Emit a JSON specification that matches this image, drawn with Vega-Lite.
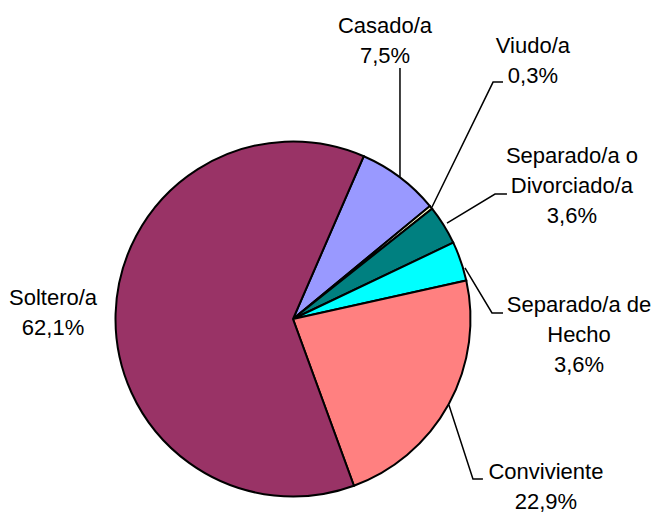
{
  "$schema": "https://vega.github.io/schema/vega-lite/v6.json",
  "autosize": "none",
  "width": 356,
  "height": 356,
  "padding": {"left": 115, "top": 141, "right": 183, "bottom": 16},
  "background": "white",
  "config": {"view": {"stroke": null}},
  "datasets": {
    "slices": [
      {"estado": "Casado/a", "pct": 7.5, "ord": 1},
      {"estado": "Viudo/a", "pct": 0.3, "ord": 2},
      {"estado": "Separado/a o Divorciado/a", "pct": 3.6, "ord": 3},
      {"estado": "Separado/a de Hecho", "pct": 3.6, "ord": 4},
      {"estado": "Conviviente", "pct": 22.9, "ord": 5},
      {"estado": "Soltero/a", "pct": 62.1, "ord": 6}
    ],
    "labels": [
      {"label": "Casado/a\n7,5%", "x": 51.7, "y": 160.7},
      {"label": "Viudo/a\n0,3%", "x": 134.8, "y": 149.4},
      {"label": "Separado/a o\nDivorciado/a\n3,6%", "x": 156.7, "y": 87.6},
      {"label": "Separado/a de\nHecho\n3,6%", "x": 160.7, "y": 3.9},
      {"label": "Conviviente\n22,9%", "x": 142.1, "y": -89.9},
      {"label": "Soltero/a\n62,1%", "x": -134.8, "y": 7.9}
    ],
    "leaders": [
      {"estado": "Casado/a", "p": 1, "x": 60.1, "y": 141.0},
      {"estado": "Casado/a", "p": 2, "x": 60.1, "y": 79.9},
      {"estado": "Viudo/a", "p": 1, "x": 118.0, "y": 133.1},
      {"estado": "Viudo/a", "p": 2, "x": 112.4, "y": 133.1},
      {"estado": "Viudo/a", "p": 3, "x": 78.1, "y": 62.9},
      {"estado": "Separado/a o Divorciado/a", "p": 1, "x": 120.2, "y": 70.2},
      {"estado": "Separado/a o Divorciado/a", "p": 2, "x": 113.5, "y": 70.2},
      {"estado": "Separado/a o Divorciado/a", "p": 3, "x": 86.5, "y": 53.9},
      {"estado": "Separado/a de Hecho", "p": 1, "x": 96.6, "y": 28.7},
      {"estado": "Separado/a de Hecho", "p": 2, "x": 111.8, "y": 3.4},
      {"estado": "Separado/a de Hecho", "p": 3, "x": 118.0, "y": 3.4},
      {"estado": "Conviviente", "p": 1, "x": 87.6, "y": -48.3},
      {"estado": "Conviviente", "p": 2, "x": 101.1, "y": -89.9},
      {"estado": "Conviviente", "p": 3, "x": 106.7, "y": -89.9}
    ]
  },
  "layer": [
    {
      "data": {"name": "slices"},
      "mark": {"type": "arc", "outerRadius": 177.5, "stroke": "black", "strokeWidth": 2, "strokeJoin": "miter"},
      "encoding": {
        "theta": {"field": "pct", "type": "quantitative", "stack": true, "scale": {"range": [0.41, 6.6932]}},
        "order": {"field": "ord", "type": "quantitative"},
        "color": {
          "field": "estado",
          "type": "nominal",
          "scale": {
            "domain": ["Casado/a", "Viudo/a", "Separado/a o Divorciado/a", "Separado/a de Hecho", "Conviviente", "Soltero/a"],
            "range": ["#9999FF", "#FFFFCC", "#008080", "#00FFFF", "#FF8080", "#993366"]
          },
          "legend": null
        }
      }
    },
    {
      "data": {"name": "leaders"},
      "mark": {"type": "line", "color": "black", "strokeWidth": 1.5},
      "encoding": {
        "x": {"field": "x", "type": "quantitative", "scale": {"domain": [-100, 100], "nice": false, "zero": false}, "axis": null},
        "y": {"field": "y", "type": "quantitative", "scale": {"domain": [-100, 100], "nice": false, "zero": false}, "axis": null},
        "detail": {"field": "estado", "type": "nominal"},
        "order": {"field": "p", "type": "quantitative"}
      }
    },
    {
      "data": {"name": "labels"},
      "mark": {"type": "text", "font": "Liberation Sans", "fontSize": 22, "lineHeight": 30, "lineBreak": "\n", "align": "center", "baseline": "alphabetic", "color": "black"},
      "encoding": {
        "x": {"field": "x", "type": "quantitative", "scale": {"domain": [-100, 100], "nice": false, "zero": false}, "axis": null},
        "y": {"field": "y", "type": "quantitative", "scale": {"domain": [-100, 100], "nice": false, "zero": false}, "axis": null},
        "text": {"field": "label", "type": "nominal"}
      }
    }
  ]
}
